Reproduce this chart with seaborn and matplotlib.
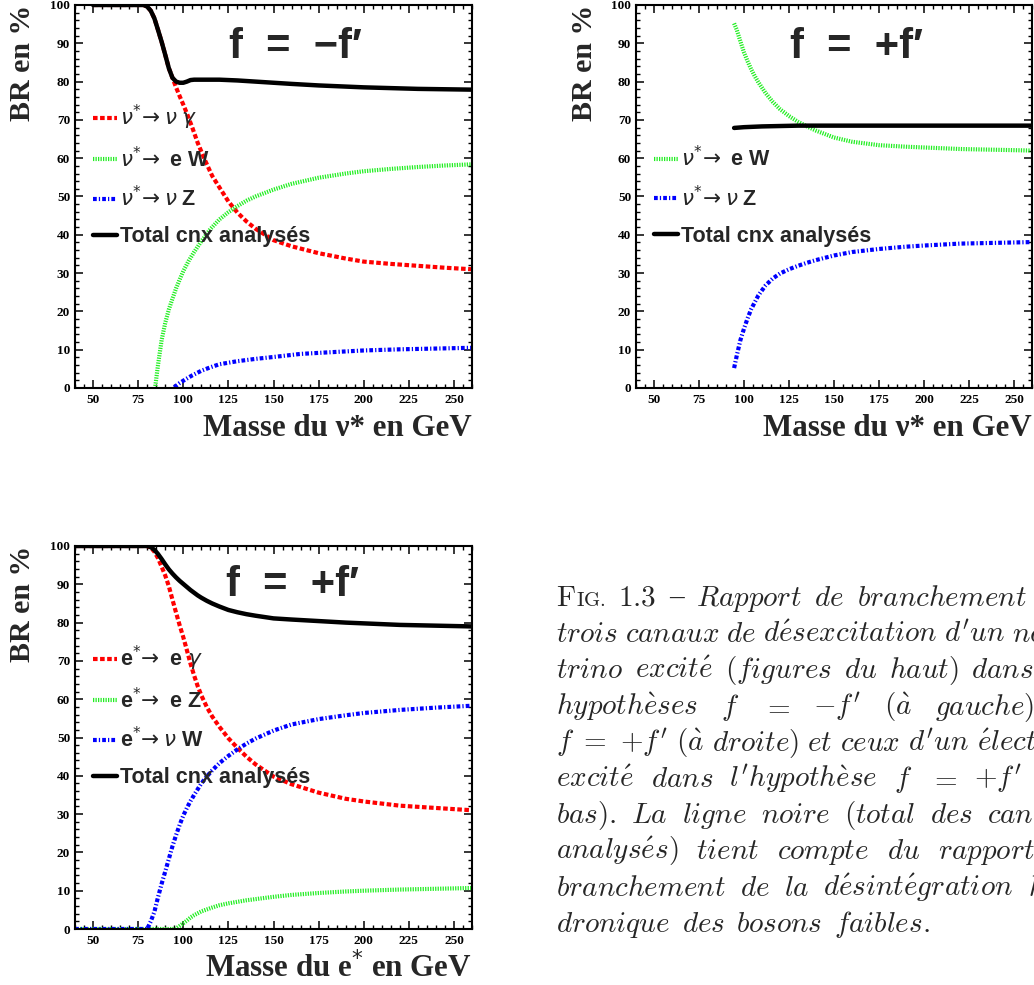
import matplotlib
matplotlib.use("Agg")
import matplotlib.pyplot as plt
import seaborn as sns
import numpy as np
from matplotlib.ticker import MultipleLocator
from matplotlib.font_manager import FontProperties

# ---------------- data ----------------
# Top-left: neutrino, f = -f'
tl_x_gamma = [50, 60, 70, 78, 80, 82, 84, 86, 88, 90, 92, 94, 96, 98, 100, 102, 105, 108,
              112, 116, 120, 125, 130, 135, 140, 150, 160, 175, 190, 200, 215, 230, 245, 260]
tl_y_gamma = [100, 100, 100, 100, 99.6, 98.5, 96.5, 93.5, 90.4, 87.0, 83.5, 81.0, 78.5, 76.2,
              74.0, 71.7, 68.0, 64.0, 59.5, 55.4, 52.4, 48.7, 45.8, 43.5, 41.6, 38.6, 37.0,
              35.2, 33.8, 33.0, 32.4, 31.9, 31.4, 31.0]
tl_x_W = [84.5, 86, 88, 90, 92, 94, 96, 98, 100, 103, 106, 110, 115, 120, 125, 130, 135,
          140, 150, 160, 175, 190, 200, 215, 230, 245, 260]
tl_y_W = [0.5, 6.0, 12.5, 17.0, 20.5, 23.3, 26.0, 28.3, 30.5, 33.2, 35.5, 38.3, 41.5, 44.0,
          45.9, 47.5, 48.9, 50.0, 51.8, 53.3, 54.9, 56.0, 56.6, 57.2, 57.7, 58.1, 58.4]
tl_x_Z = [95, 98, 101, 105, 110, 115, 120, 130, 140, 150, 165, 180, 200, 220, 240, 260]
tl_y_Z = [0.2, 1.3, 2.2, 3.3, 4.5, 5.4, 6.2, 7.0, 7.6, 8.1, 8.9, 9.3, 9.8, 10.1, 10.3, 10.5]
tl_x_tot = [50, 60, 70, 78, 80, 82, 84, 86, 88, 90, 92, 94, 96, 98, 100, 102, 104, 106,
            110, 120, 130, 140, 150, 160, 175, 190, 200, 215, 230, 245, 260]
tl_y_tot = [100, 100, 100, 100, 99.6, 98.5, 96.5, 93.5, 90.4, 87.0, 83.5, 81.0, 80.0, 79.7,
            79.7, 80.0, 80.4, 80.5, 80.5, 80.5, 80.3, 80.0, 79.7, 79.4, 79.0, 78.7, 78.5,
            78.3, 78.1, 78.0, 77.9]

# Top-right: neutrino, f = +f'
tr_x = [94.5, 96, 98, 100, 102, 104, 106, 108, 112, 116, 120, 125, 130, 135, 140, 150, 160,
        175, 190, 200, 220, 240, 260]
tr_y_W = [95.2, 93.5, 90.5, 87.6, 85.3, 83.2, 81.4, 79.8, 77.0, 74.7, 72.8, 71.0, 69.5, 68.3,
          67.2, 65.4, 64.3, 63.4, 63.0, 62.8, 62.4, 62.2, 62.0]
tr_y_Z = [5.2, 8.5, 12.5, 15.5, 18.2, 20.6, 22.4, 24.2, 26.8, 28.6, 29.9, 31.0, 31.9, 32.7,
          33.4, 34.6, 35.5, 36.3, 36.9, 37.2, 37.7, 37.9, 38.1]
tr_x_tot = [94.5, 100, 110, 120, 130, 150, 200, 260]
tr_y_tot = [67.9, 68.1, 68.3, 68.4, 68.5, 68.5, 68.5, 68.5]

# Bottom-left: electron, f = +f'
bl_x = [40, 50, 60, 70, 80, 82, 84, 86, 88, 90, 92, 94, 96, 98, 100, 102, 104, 106, 108, 110,
        113, 116, 120, 125, 130, 135, 140, 150, 160, 175, 190, 200, 220, 240, 260]
bl_y_gamma = [100, 100, 100, 100, 100, 99.6, 98.5, 96.8, 94.6, 92.3, 89.5, 86.0, 82.6, 79.3,
              76.2, 72.8, 69.3, 66.2, 63.4, 61.0, 58.0, 55.5, 52.8, 49.8, 47.3, 45.0, 43.0,
              39.8, 37.8, 35.6, 34.0, 33.3, 32.2, 31.6, 31.0]
bl_y_W = [0, 0, 0, 0, 0, 2.0, 4.5, 8.3, 11.8, 15.0, 18.3, 21.6, 24.5, 27.2, 29.6, 31.6, 33.4,
          35.0, 36.5, 38.0, 39.8, 41.4, 43.3, 45.2, 46.9, 48.4, 49.7, 51.8, 53.4, 54.8, 55.8,
          56.4, 57.2, 57.8, 58.3]
bl_y_Z = [0, 0, 0, 0, 0, 0, 0, 0, 0, 0, 0, 0, 0.1, 0.8, 1.5, 2.2, 3.0, 3.6, 4.1, 4.6, 5.1,
          5.6, 6.2, 6.7, 7.1, 7.5, 7.8, 8.4, 8.9, 9.4, 9.8, 10.0, 10.3, 10.5, 10.7]
bl_y_tot = [100, 100, 100, 100, 100, 99.7, 99.0, 97.9, 96.6, 95.2, 93.9, 92.8, 91.8, 90.9,
            90.1, 89.3, 88.5, 87.8, 87.1, 86.5, 85.7, 85.0, 84.2, 83.3, 82.7, 82.2, 81.8,
            81.1, 80.8, 80.4, 80.0, 79.8, 79.4, 79.2, 79.0]

x_ticks = [50, 75, 100, 125, 150, 175, 200, 225, 250]
y_ticks = [0, 10, 20, 30, 40, 50, 60, 70, 80, 90, 100]

lab_tl = [r"$\nu^{*}\!\rightarrow\nu\;\gamma$", r"$\nu^{*}\!\rightarrow$ e W",
          r"$\nu^{*}\!\rightarrow\nu$ Z", "Total cnx analysés"]
lab_bl = [r"e$^{*}\!\rightarrow$ e $\gamma$", r"e$^{*}\!\rightarrow$ e Z",
          r"e$^{*}\!\rightarrow\nu$ W", "Total cnx analysés"]
titles = ["f  =  −f′", "f  =  +f′", "f  =  +f′"]
xlabels = ["Masse du ν* en GeV", "Masse du ν* en GeV", r"Masse du e$^{*}$ en GeV"]

# ---------------- style ----------------
sns.set_theme(style="white")
plt.rcParams['font.family'] = ['Liberation Sans', 'DejaVu Sans']
plt.rcParams.update({
    "xtick.direction": "in", "ytick.direction": "in",
    "xtick.top": True, "ytick.right": True,
    "xtick.bottom": True, "ytick.left": True,
    "xtick.major.size": 5.5, "ytick.major.size": 6.0,
    "xtick.minor.size": 3.0, "ytick.minor.size": 3.0,
    "xtick.major.width": 1.1, "ytick.major.width": 1.1,
    "xtick.minor.width": 1.0, "ytick.minor.width": 1.0,
    "xtick.color": "black", "ytick.color": "black",
    "axes.edgecolor": "black", "axes.linewidth": 1.5,
})

RED = dict(color="#ff0000", linewidth=3.0, linestyle=(0, (1.1, 0.6)), dash_capstyle="butt")
GREEN = dict(color="#22ee22", linewidth=3.0, linestyle=(0, (0.3, 0.3)), dash_capstyle="butt")
BLUE = dict(color="#0000ff", linewidth=3.0, linestyle=(0, (0.9, 0.5, 0.3, 0.5)), dash_capstyle="butt")
BLACK = dict(color="black", linewidth=3.2, linestyle="-")

W, H = 1034, 985
fig = plt.figure(figsize=(W / 100, H / 100), dpi=100)


def px_axes(l, t, r, b):
    return fig.add_axes([l / W, 1 - b / H, (r - l) / W, (b - t) / H])


ax_tl = px_axes(75, 5, 472, 388)
ax_tr = px_axes(636, 5, 1032, 388)
ax_bl = px_axes(75, 546, 472, 929)

tickfont = FontProperties(family="Liberation Serif", weight="bold", size=9.5)
legfont = FontProperties(family="Liberation Sans", weight="bold", size=15.5)


def line(ax, x, y, style, label):
    sns.lineplot(x=x, y=y, ax=ax, label=label, estimator=None, sort=False, **style)


# top-left
line(ax_tl, tl_x_gamma, tl_y_gamma, RED, lab_tl[0])
line(ax_tl, tl_x_W, tl_y_W, GREEN, lab_tl[1])
line(ax_tl, tl_x_Z, tl_y_Z, BLUE, lab_tl[2])
line(ax_tl, tl_x_tot, tl_y_tot, BLACK, lab_tl[3])
# top-right
line(ax_tr, tr_x, tr_y_W, GREEN, lab_tl[1])
line(ax_tr, tr_x, tr_y_Z, BLUE, lab_tl[2])
line(ax_tr, tr_x_tot, tr_y_tot, BLACK, lab_tl[3])
# bottom-left
line(ax_bl, bl_x, bl_y_gamma, RED, lab_bl[0])
line(ax_bl, bl_x, bl_y_Z, GREEN, lab_bl[1])
line(ax_bl, bl_x, bl_y_W, BLUE, lab_bl[2])
line(ax_bl, bl_x, bl_y_tot, BLACK, lab_bl[3])

legend_top = {0: 0.745, 1: 0.632, 2: 0.745}
for i, ax in enumerate([ax_tl, ax_tr, ax_bl]):
    ax.set_xlim(40, 260)
    ax.set_ylim(0, 100)
    ax.set_xticks(x_ticks)
    ax.set_yticks(y_ticks)
    ax.xaxis.set_minor_locator(MultipleLocator(5))
    ax.yaxis.set_minor_locator(MultipleLocator(2))
    ax.tick_params(axis="x", which="both", pad=4, top=True, bottom=True)
    ax.tick_params(axis="y", which="both", pad=3.5, left=True, right=True)
    for lb in ax.get_xticklabels() + ax.get_yticklabels():
        lb.set_fontproperties(tickfont)
    ax.set_xlabel("")
    ax.set_ylabel("")
    for s in ax.spines.values():
        s.set_visible(True)
        s.set_linewidth(1.5)
    ax.text(-52 / 397, 1.0, "BR en %", rotation=90, ha="center", va="top",
            transform=ax.transAxes, family="Liberation Serif", weight="bold", fontsize=21.5)
    ax.text(1.0, -0.126, xlabels[i], ha="right", va="baseline", transform=ax.transAxes,
            family="Liberation Serif", weight="bold", fontsize=22.3)
    tx = [0.554, 0.557, 0.547][i]
    ty = [0.89, 0.89, 0.898][i]
    ax.text(tx, ty, titles[i], ha="center", va="center", transform=ax.transAxes,
            family="Liberation Sans", weight="bold", fontsize=30)
    ax.legend(loc="upper left", bbox_to_anchor=(18 / 397, legend_top[i]), frameon=False,
              prop=legfont, handlelength=1.1, handletextpad=0.15, labelspacing=0.68,
              borderpad=0, borderaxespad=0)

# ---------------- caption (justified, Computer Modern look) ----------------
def cm(word):
    s = word.replace("é", r"\acute{e}").replace("è", r"\grave{e}").replace("à", r"\grave{a}")
    s = s.replace("-", "{-}").replace("−", "-").replace(" ", r"\ ")
    return "$" + s + "$"


cap_lines = [
    ["FIG.", "1.3", "–", "Rapport", "de", "branchement", "des"],
    ["trois", "canaux", "de", "désexcitation", "d'un", "neu-"],
    ["trino", "excité", "(figures", "du", "haut)", "dans", "les"],
    ["hypothèses", "f", "=", "−f'", "(à", "gauche)", "et"],
    ["f = {+}f'", "(à", "droite)", "et", "ceux", "d'un", "électron"],
    ["excité", "dans", "l'hypothèse", "f", "=", "+f'", "(en"],
    ["bas).", "La", "ligne", "noire", "(total", "des", "canaux"],
    ["analysés)", "tient", "compte", "du", "rapport", "de"],
    ["branchement", "de", "la", "désintégration", "ha-"],
    ["dronique", "des", "bosons", "faibles."],
]
CAP_FS = 21.0
cap_left, cap_right = 556, 1082
base0, dy = 606, 36.2

cap_texts = []
for li, words in enumerate(cap_lines):
    yb = 1 - (base0 + li * dy) / H
    row = []
    for w in words:
        if w == "FIG.":
            parts = [fig.text(0, yb, r"$\mathrm{F}$", fontsize=CAP_FS, math_fontfamily="cm", va="baseline"),
                     fig.text(0, yb, r"$\mathrm{IG.}$", fontsize=15, math_fontfamily="cm", va="baseline")]
        elif w == "1.3":
            parts = [fig.text(0, yb, r"$\mathrm{1.3}$", fontsize=CAP_FS, math_fontfamily="cm", va="baseline")]
        elif w == "–":
            parts = [fig.text(0, yb, "–", fontsize=CAP_FS, family="Liberation Serif", va="baseline")]
        else:
            parts = [fig.text(0, yb, cm(w), fontsize=CAP_FS, math_fontfamily="cm", va="baseline")]
        row.append(parts)
    cap_texts.append(row)

fig.canvas.draw()
renderer = fig.canvas.get_renderer()
for li, row in enumerate(cap_texts):
    widths = [[p.get_window_extent(renderer).width for p in parts] for parts in row]
    total = sum(sum(w) for w in widths)
    n = len(row)
    if li == len(cap_texts) - 1:
        gap = 11.5
    else:
        gap = (cap_right - cap_left - total) / (n - 1)
    x = cap_left
    for parts, ws in zip(row, widths):
        for p, wdt in zip(parts, ws):
            p.set_x(x / W)
            x += wdt
        x += gap

fig.savefig("out.png", dpi=100)
